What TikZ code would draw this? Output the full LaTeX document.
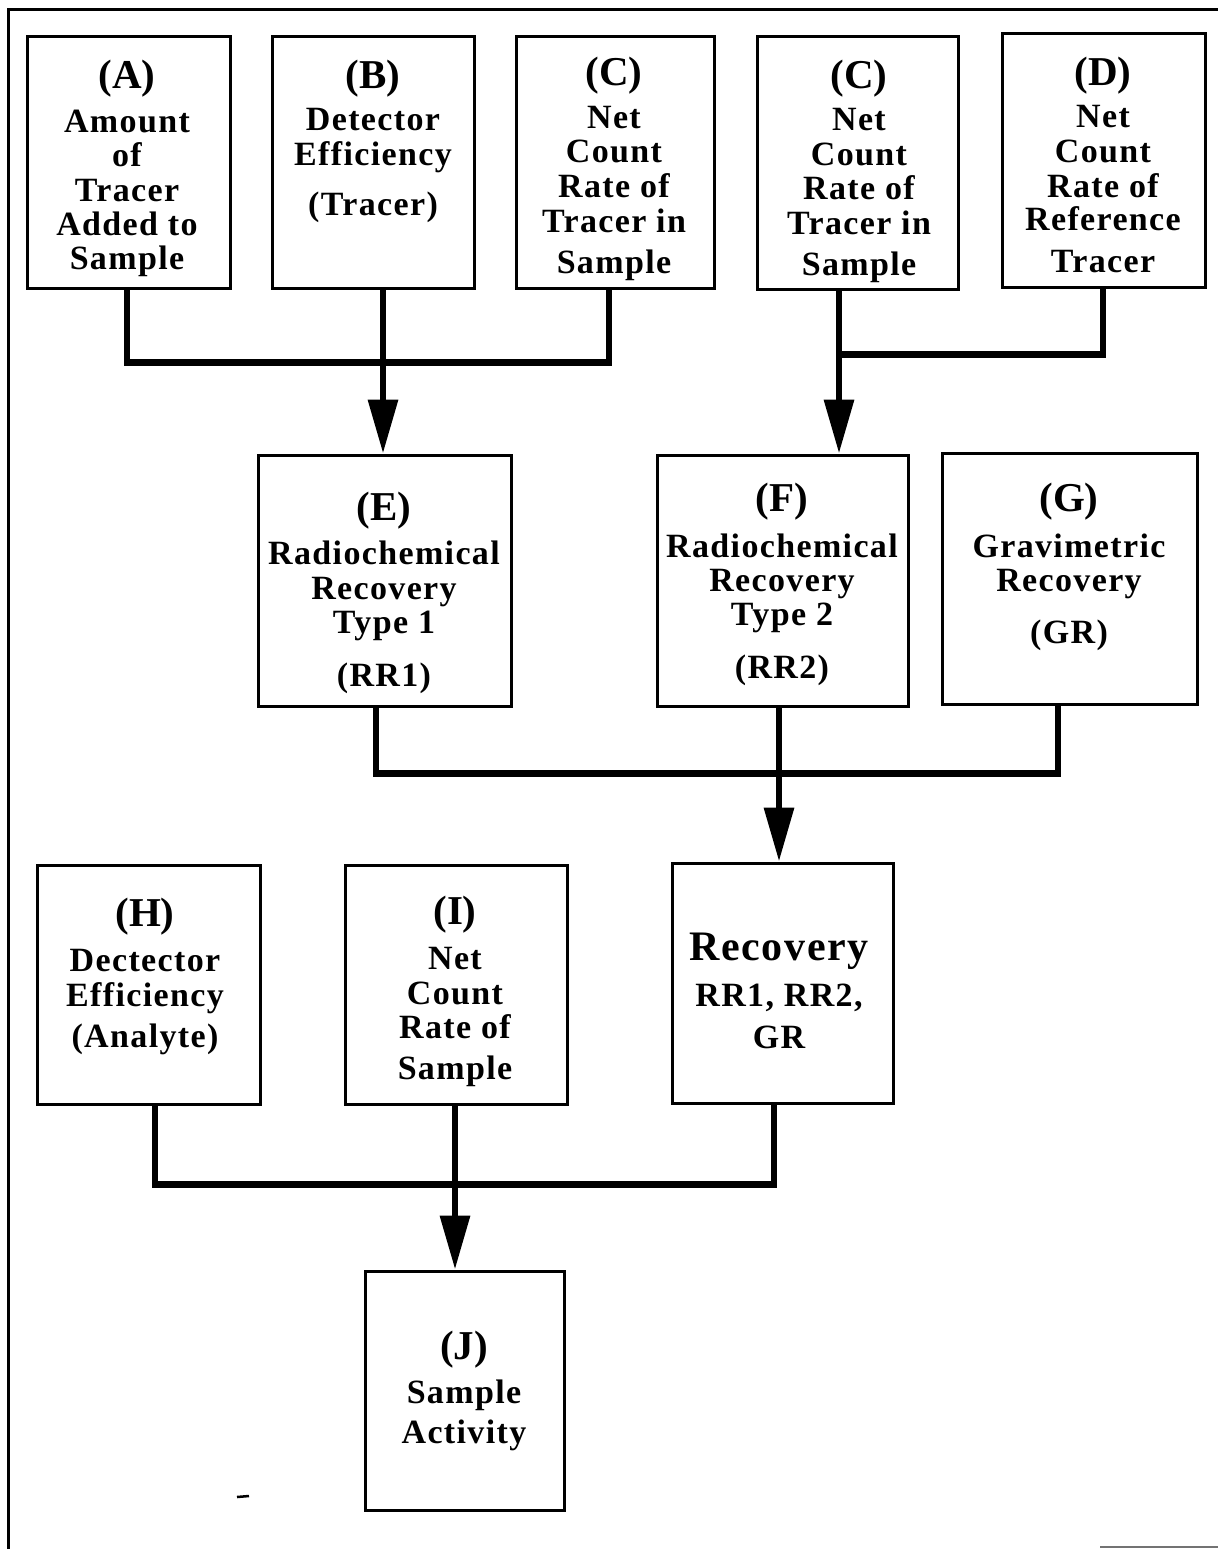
\documentclass[tikz,border=0pt]{standalone}
\usepackage{fontspec}
\setmainfont{Liberation Serif}
\newfontfamily\spfont[LetterSpace=4]{Liberation Serif}
\usetikzlibrary{arrows.meta}
\newcommand\bx[5]{\node[box,minimum width=#4,minimum height=#5] (#1) at (#2,#3) {};}
\newcommand\tb[4]{\node[body] (#1) at (#2,#3) {#4};}
\newcommand\tl[4]{\node[lbl] (#1) at (#2,#3) {#4};}
\begin{document}
\begin{tikzpicture}[x=1pt,y=-1pt,
 box/.style={draw,line width=3pt,inner sep=0pt},
 conn/.style={line width=6.5pt},
 arr/.style={conn,-{Triangle[length=54pt,width=29pt]}},
 body/.style={inner sep=0pt,text height=22.5pt,text depth=0pt,font=\spfont\fontsize{34}{34}\selectfont\bfseries},
 lbl/.style={inner sep=0pt,text height=27pt,text depth=0pt,font=\fontsize{41}{41}\selectfont\bfseries},
 big/.style={inner sep=0pt,text height=28pt,text depth=0pt,font=\spfont\fontsize{42}{42}\selectfont\bfseries},
]
\useasboundingbox (0,0) rectangle (1218,1549);
% outer frame
\draw[line width=3pt] (8,1549) -- (8,10) -- (1218,10);
\draw[line width=2pt,black!55] (1100,1547) -- (1218,1547);
\draw[line width=2.5pt] (237,1497) -- (249,1496);

% boxes
\bx{A}{128.5}{162.5}{203pt}{251pt}
\bx{B}{373}{162.5}{202pt}{251pt}
\bx{C1}{615}{162.5}{198pt}{251pt}
\bx{C2}{857.5}{163}{201pt}{252pt}
\bx{D}{1103.5}{160.5}{203pt}{253pt}
\bx{E}{384.5}{580.5}{253pt}{251pt}
\bx{F}{782.5}{580.5}{251pt}{251pt}
\bx{G}{1069.5}{578.5}{255pt}{251pt}
\bx{H}{148.5}{984.5}{223pt}{239pt}
\bx{I}{456}{984.5}{222pt}{239pt}
\bx{R}{782.5}{983}{221pt}{240pt}
\bx{J}{464.5}{1390.5}{199pt}{239pt}

% texts
\tl{A0}{127}{75}{(A)}
\tb{A1}{127}{121}{Amount}
\tb{A2}{127}{155}{of}
\tb{A3}{127}{190}{Tracer}
\tb{A4}{127}{224}{Added to}
\tb{A5}{127}{258}{Sample}

\tl{B0}{373}{75}{(B)}
\tb{B1}{373}{119}{Detector}
\tb{B2}{373}{154}{Efficiency}
\tb{B3}{373}{204}{(Tracer)}

\tl{C10}{614}{72}{(C)}
\tb{C11}{614}{117}{Net}
\tb{C12}{614}{151}{Count}
\tb{C13}{614}{186}{Rate of}
\tb{C14}{614}{221}{Tracer in}
\tb{C15}{614}{262}{Sample}

\tl{C20}{859}{75}{(C)}
\tb{C21}{859}{119}{Net}
\tb{C22}{859}{154}{Count}
\tb{C23}{859}{188}{Rate of}
\tb{C24}{859}{223}{Tracer in}
\tb{C25}{859}{264}{Sample}

\tl{D0}{1103}{72}{(D)}
\tb{D1}{1103}{116}{Net}
\tb{D2}{1103}{151}{Count}
\tb{D3}{1103}{186}{Rate of}
\tb{D4}{1103}{219}{Reference}
\tb{D5}{1103}{261}{Tracer}

\tl{E0}{384}{507}{(E)}
\tb{E1}{384}{553}{Radiochemical}
\tb{E2}{384}{588}{Recovery}
\tb{E3}{384}{622}{Type 1}
\tb{E4}{384}{675}{(RR1)}

\tl{F0}{782}{498}{(F)}
\tb{F1}{782}{546}{Radiochemical}
\tb{F2}{782}{580}{Recovery}
\tb{F3}{782}{614}{Type 2}
\tb{F4}{782}{667}{(RR2)}

\tl{G0}{1069}{498}{(G)}
\tb{G1}{1069}{546}{Gravimetric}
\tb{G2}{1069}{580}{Recovery}
\tb{G3}{1069}{632}{(GR)}

\tl{H0}{145}{913}{(H)}
\tb{H1}{145}{960}{Dectector}
\tb{H2}{145}{995}{Efficiency}
\tb{H3}{145}{1036}{(Analyte)}

\tl{I0}{455}{911}{(I)}
\tb{I1}{455}{958}{Net}
\tb{I2}{455}{993}{Count}
\tb{I3}{455}{1027}{Rate of}
\tb{I4}{455}{1068}{Sample}

\node[big] (R1) at (779,946) {Recovery};
\tb{R2}{779}{995}{RR1,\ RR2,}
\tb{R3}{779}{1037}{GR}

\tl{J0}{464}{1346}{(J)}
\tb{J1}{464}{1392}{Sample}
\tb{J2}{464}{1432}{Activity}

% connector anchor points
\coordinate (a1) at ([xshift=-1.5pt]A.south);
\coordinate (b1) at ([xshift=10pt]B.south);
\coordinate (c1) at ([xshift=-6pt]C1.south);
\coordinate (c2) at ([xshift=-18.5pt]C2.south);
\coordinate (d1) at ([xshift=-0.5pt]D.south);
\coordinate (e1) at ([xshift=-8.5pt]E.south);
\coordinate (f1) at ([xshift=-3.5pt]F.south);
\coordinate (g1) at ([xshift=-11.5pt]G.south);
\coordinate (h1) at ([xshift=6.5pt]H.south);
\coordinate (i1) at ([xshift=-1pt]I.south);
\coordinate (r1) at ([xshift=-8.5pt]R.south);

% connectors
\draw[conn] (a1) -- ++(0,73) -| (c1);
\draw[arr] (b1) -- (b1 |- E.north);
\draw[conn] (d1) -- ++(0,66) -| (c2);
\draw[arr] (c2) -- (c2 |- F.north);
\draw[conn] (e1) -- ++(0,66) -| (g1);
\draw[arr] (f1) -- (f1 |- R.north);
\draw[conn] (h1) -- ++(0,79) -| (r1);
\draw[arr] (i1) -- (i1 |- J.north);
\end{tikzpicture}
\end{document}
